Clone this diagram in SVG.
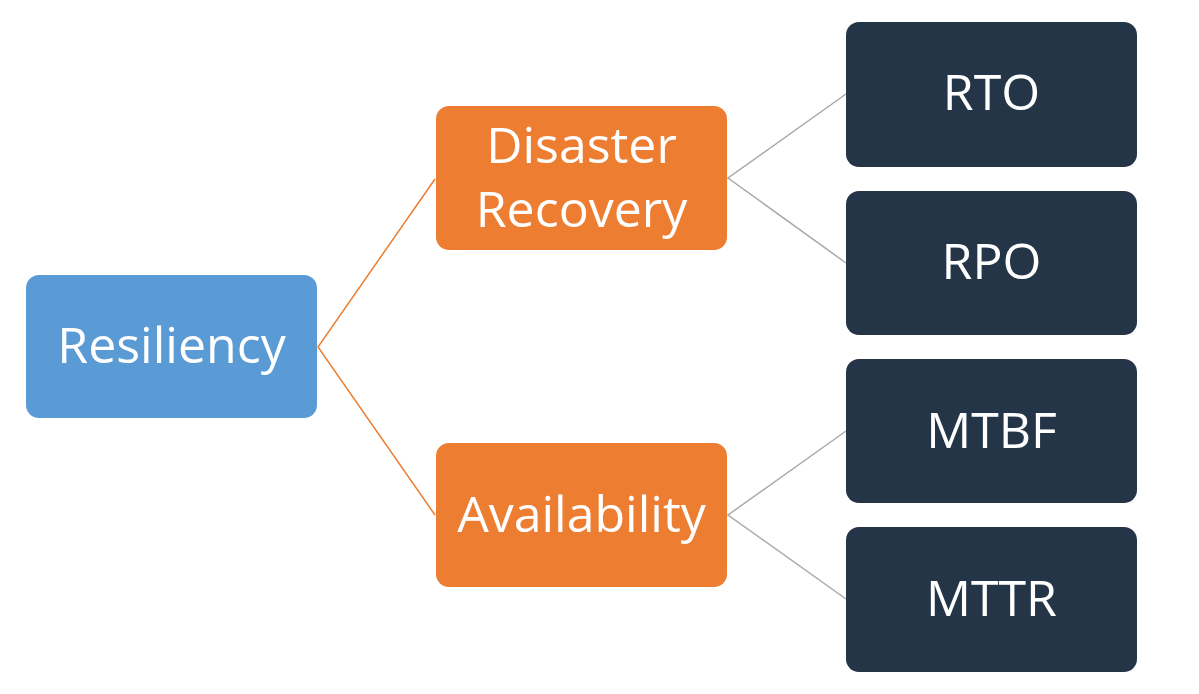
<svg xmlns="http://www.w3.org/2000/svg" width="1199" height="694" viewBox="0 0 1199 694">
<style>
.t{font-family:"Open Sans","Noto Sans","Liberation Sans",sans-serif;font-size:50px;fill:#ffffff;text-anchor:middle}
.blue{fill:#5B9BD5}
.orange{fill:#ED7D31}
.dark{fill:#243547}
.c1{stroke:#ED7D31;stroke-width:1.5;fill:none}
.c2{stroke:#A9A9A9;stroke-width:1.5;fill:none}
</style>
<rect width="1199" height="694" fill="#ffffff"/>
<g id="connectors">
<polyline class="c1" points="435,179 318,347 435,515"/>
<polyline class="c2" points="846,94 728,178 846,263"/>
<polyline class="c2" points="846,431 728,515 846,599"/>
</g>
<g id="resiliency">
<rect class="blue" x="26" y="275" width="291" height="143" rx="13"/>
<text class="t" x="171.5" y="363">Resiliency</text>
</g>
<g id="disaster-recovery">
<rect class="orange" x="436" y="106" width="291" height="144" rx="13"/>
<text class="t" x="581.5" y="163">Disaster</text>
<text class="t" x="581.5" y="227">Recovery</text>
</g>
<g id="availability">
<rect class="orange" x="436" y="443" width="291" height="144" rx="13"/>
<text class="t" x="581.5" y="532">Availability</text>
</g>
<g id="rto">
<rect class="dark" x="846" y="22" width="291" height="145" rx="13"/>
<text class="t" x="991.5" y="110">RTO</text>
</g>
<g id="rpo">
<rect class="dark" x="846" y="191" width="291" height="144" rx="13"/>
<text class="t" x="991.5" y="279">RPO</text>
</g>
<g id="mtbf">
<rect class="dark" x="846" y="359" width="291" height="144" rx="13"/>
<text class="t" x="991.5" y="448">MTBF</text>
</g>
<g id="mttr">
<rect class="dark" x="846" y="527" width="291" height="145" rx="13"/>
<text class="t" x="991.5" y="616">MTTR</text>
</g>
</svg>
